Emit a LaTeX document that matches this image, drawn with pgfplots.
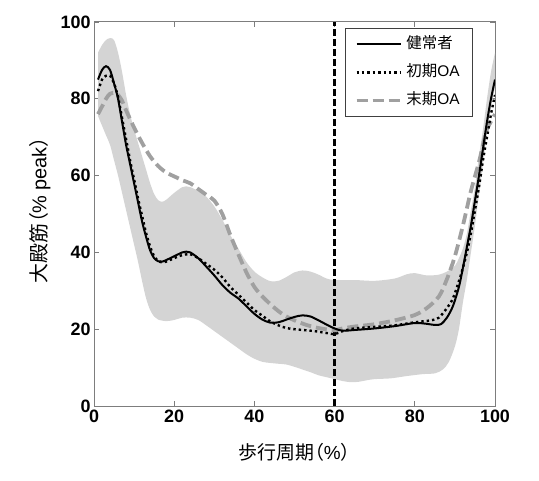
\documentclass[border=0pt]{standalone}
\usepackage{fontspec}
\setmainfont{Liberation Sans}
\newfontfamily\cjk{Noto Sans CJK JP}
\newfontfamily\cjkp[RawFeature=+palt]{Noto Sans CJK JP}
\usepackage{pgfplots}
\pgfplotsset{compat=1.18}
\usepgfplotslibrary{fillbetween}
\definecolor{axgray}{RGB}{125,125,125}
\definecolor{bandgray}{RGB}{212,212,212}
\definecolor{dashgray}{RGB}{160,160,160}
\begin{document}
\begin{tikzpicture}
\begin{axis}[
  scale only axis, width=401bp, height=384bp,
  xmin=0, xmax=100, ymin=0, ymax=100,
  xtick={0,20,40,60,80,100}, ytick={0,20,40,60,80,100},
  tick align=inside, major tick length=5bp,
  every tick/.style={axgray, line width=0.8bp},
  axis line style={axgray, line width=1bp},
  /pgf/number format/assume math mode=true,
  ticklabel style={font=\bfseries\fontsize{18}{20}\selectfont, black},
  xlabel={{\cjk 歩行周期}{\cjkp （}\%{\cjkp ）}},
  ylabel={{\cjk 大殿筋}{\cjkp （}\% peak{\cjkp ）}},
  xlabel style={font=\fontsize{19}{21}\selectfont, at={(axis description cs:0.5,-0.12)}, anchor=center},
  ylabel style={font=\fontsize{20}{22}\selectfont, at={(axis description cs:-0.135,0.51)}, anchor=center, rotate=0},
  reverse legend,
  legend cell align=left,
  legend image code/.code={\draw[#1] (0bp,0bp) -- (44bp,0bp);},
  legend style={at={(0.945,0.984)}, anchor=north east, draw=black!75, line width=0.7bp,
    fill=white, font=\fontsize{15.5}{17}\selectfont, inner xsep=9bp, inner ysep=7bp,
    row sep=10bp, nodes={inner xsep=4bp, inner ysep=2bp, text height=11bp, text depth=3bp}},
]
\addplot[name path=up, draw=none, smooth, forget plot] coordinates {
(1,92) (2,94) (3,95.3) (4,95.8) (5,95.3) (6,92) (7,87) (8,81) (9,76) (10,72)
(11,68.5) (12,65) (13,61.5) (14,58) (15,55.2) (16,53.6) (17,53.2) (18,53.7) (20,55.5)
(22,57) (23,57.2) (24,57) (26,56) (28,54.5) (30,52) (32,48.5) (34,44.5) (36,41)
(38,37.5) (40,35) (42,33.5) (44,32.5) (46,32.6) (48,33.6) (50,34.8) (52,35.3)
(54,35) (56,34.2) (58,33.2) (60,32.8) (65,32.8) (70,32.6) (75,33.2) (78,34.3)
(80,34.6) (83,34) (86,34.2) (88,35) (90,36.5) (91,38.5) (92,41) (93,45) (94,51)
(95,57) (96,65) (97,72) (98,80) (99,87) (100,92)};
\addplot[name path=lo, draw=none, smooth, forget plot] coordinates {
(1,75.5) (2,73) (3,70.5) (4,68) (5,64) (6,60) (7,55.5) (8,51) (9,46.5) (10,42)
(11,37.5) (12,32.5) (13,28) (14,25) (15,23.3) (16,22.5) (18,22.1) (20,22.4)
(22,23) (24,23) (26,22.4) (28,21) (30,19.5) (32,18) (34,16.5) (36,15) (38,13.5)
(40,12.3) (42,11.5) (44,11.2) (46,11) (48,10.8) (50,10.2) (52,9.5) (54,8.8)
(56,8) (58,7.5) (60,7) (62,6.5) (64,6.2) (66,6.3) (68,6.7) (70,7) (74,7.2)
(78,7.8) (82,8.3) (85,8.5) (87,9.5) (88.5,11.5) (90,15.5) (91,20) (92,27)
(93,33) (94,40) (95,47) (96,55) (97,63) (98,71) (99,78) (100,83)};
\addplot[bandgray, forget plot] fill between[of=up and lo];
\addplot[black, line width=2.4bp, dash pattern=on 7bp off 3bp, forget plot] coordinates {(60,0) (60,100)};
\addplot[dashgray, line width=3.8bp, dash pattern=on 11bp off 5bp, smooth] coordinates {
(1,76) (2,78) (3,80) (4,81.3) (5.5,81.5) (7,79.5) (8,77) (10,72.5) (12,68.5)
(14,65) (16,62.5) (18,60.8) (20,59.8) (22,58.8) (24,58) (26,56.5) (28,55)
(30,53.5) (32,50) (34,44.5) (36,39.5) (38,34.8) (40,31) (42,28.5) (44,26.5)
(46,24.7) (48,23.3) (50,22.3) (53,21.1) (56,20.3) (59,19.8) (60,19.7) (62,20.2)
(65,20.7) (70,21.3) (75,22.3) (80,23.7) (83,25.5) (86,28.5) (88,33) (90,39)
(92,47) (94,56) (96,63.5) (97,68) (98,72) (100,76)};
\addlegendentry{{\cjk 末期}OA}
\addplot[black, line width=2.4bp, dash pattern=on 2.4bp off 3bp, smooth] coordinates {
(1,82) (2,85) (3,86) (4,86) (5,84) (6,80.5) (7,75) (8,69.5) (9,64) (10,59)
(11,54) (12,49.5) (13,45) (14,41.5) (15,39) (16,37.8) (17,37.4) (18,37.6)
(20,38.5) (22,39.3) (24,39.5) (26,38.5) (28,37) (30,35.5) (32,33.5) (34,31)
(36,29) (38,27) (40,25) (42,23.5) (44,22) (46,21) (48,20.3) (50,20) (52,19.8)
(55,19.5) (58,19) (60,18.7) (62,19.5) (65,20.2) (70,20.6) (75,21) (80,21.8)
(84,22.3) (86,23) (88,25.5) (89.5,28) (91,32.5) (92,36) (93,40) (94,45)
(95,51) (96,57) (97,64) (98,70) (99,76) (100,81)};
\addlegendentry{{\cjk 初期}OA}
\addplot[black, line width=2bp, smooth] coordinates {
(1,85) (2,87.5) (3,88.5) (4,87.5) (5,84) (6,80) (7,74) (8,68) (9,63) (10,58)
(11,53) (12,48) (13,44) (14,40.5) (15,38.5) (16,37.7) (17,37.6) (18,38)
(20,39) (22,40) (23,40.2) (24,40) (26,38.5) (28,36.3) (30,34) (32,31.5)
(34,29.5) (36,28) (38,26) (40,24) (42,22.5) (44,21.7) (46,21.8) (48,22.5)
(50,23.2) (52,23.6) (54,23.3) (56,22.3) (58,21.2) (60,20.2) (62,19.6) (65,19.8)
(70,20.2) (75,20.8) (80,21.6) (83,21.4) (85,21.1) (86.5,21.3) (88,23) (89.5,26)
(91,31) (92,36) (93,41.5) (94,47) (95,53.5) (96,60) (97,67) (98,74) (99,80)
(100,85)};
\addlegendentry{{\cjk 健常者}}
\end{axis}
\pgfresetboundingbox
\path ([shift={(-94bp,-75bp)}]current axis.south west) rectangle ([shift={(44bp,22bp)}]current axis.north east);
\end{tikzpicture}
\end{document}
